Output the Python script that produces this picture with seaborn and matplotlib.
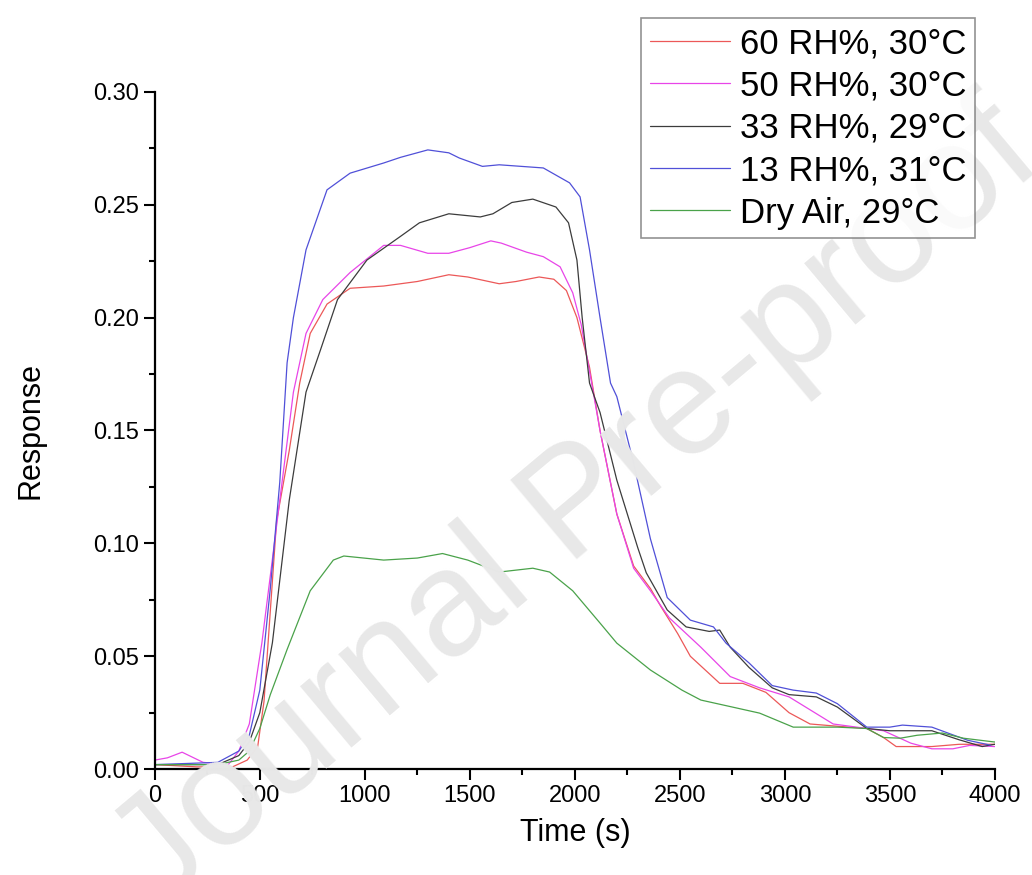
import numpy as np
import pandas as pd
import matplotlib
matplotlib.use("Agg")
import matplotlib.pyplot as plt
from matplotlib.ticker import MultipleLocator
import seaborn as sns

labels = ["60 RH%, 30°C", "50 RH%, 30°C", "33 RH%, 29°C", "13 RH%, 31°C", "Dry Air, 29°C"]
colors = ["#ec5858", "#e845e8", "#3c3c3c", "#5050d8", "#4aa24a"]

t_60 = [0, 200, 370, 440, 490, 520, 580, 640, 690, 740, 820, 930, 1090, 1250, 1400, 1490, 1640, 1720,
        1830, 1900, 1960, 2010, 2070, 2120, 2200, 2280, 2360, 2410, 2490, 2550, 2690, 2800, 2910, 3020,
        3120, 3250, 3390, 3470, 3530, 3700, 3830, 4000]
r_60 = [0.002, 0.001, 0.001, 0.004, 0.010, 0.030, 0.110, 0.141, 0.171, 0.193, 0.206, 0.213, 0.214, 0.216,
        0.219, 0.218, 0.215, 0.216, 0.218, 0.217, 0.212, 0.200, 0.178, 0.150, 0.113, 0.090, 0.080, 0.072,
        0.060, 0.050, 0.038, 0.038, 0.034, 0.025, 0.020, 0.019, 0.018, 0.014, 0.010, 0.010, 0.011, 0.011]

t_50 = [0, 60, 130, 230, 350, 400, 450, 510, 595, 660, 720, 800, 930, 1090, 1170, 1300, 1400, 1500,
        1600, 1650, 1770, 1850, 1930, 1990, 2030, 2080, 2120, 2200, 2280, 2360, 2450, 2600, 2740, 2880,
        3020, 3230, 3390, 3470, 3600, 3700, 3800, 3880, 4000]
r_50 = [0.004, 0.005, 0.0075, 0.003, 0.002, 0.008, 0.020, 0.056, 0.119, 0.167, 0.193, 0.208, 0.220,
        0.232, 0.232, 0.2285, 0.2285, 0.231, 0.234, 0.233, 0.229, 0.227, 0.2225, 0.211, 0.197, 0.171,
        0.150, 0.113, 0.089, 0.079, 0.067, 0.054, 0.041, 0.036, 0.032, 0.020, 0.018, 0.017, 0.0115,
        0.009, 0.009, 0.0105, 0.010]

t_33 = [0, 300, 400, 450, 500, 560, 640, 720, 790, 870, 1010, 1170, 1260, 1400, 1550, 1610, 1700, 1800,
        1910, 1970, 2010, 2035, 2070, 2120, 2200, 2300, 2340, 2440, 2530, 2640, 2690, 2740, 2830, 2940,
        3020, 3150, 3250, 3390, 3500, 3700, 3830, 3940, 4000]
r_33 = [0.002, 0.002, 0.006, 0.012, 0.025, 0.056, 0.119, 0.167, 0.186, 0.208, 0.2255, 0.236, 0.242,
        0.246, 0.2446, 0.246, 0.251, 0.2525, 0.249, 0.242, 0.2255, 0.200, 0.171, 0.158, 0.128, 0.098,
        0.087, 0.0705, 0.063, 0.061, 0.0616, 0.054, 0.045, 0.036, 0.033, 0.032, 0.0275, 0.018, 0.017,
        0.017, 0.013, 0.010, 0.011]

t_13 = [0, 300, 400, 450, 500, 550, 595, 630, 660, 720, 820, 930, 1090, 1170, 1300, 1400, 1450, 1560,
        1640, 1850, 1975, 2025, 2070, 2120, 2170, 2200, 2280, 2360, 2440, 2550, 2660, 2720, 2830, 2940,
        3040, 3150, 3250, 3390, 3500, 3560, 3700, 3870, 3980]
r_13 = [0.002, 0.003, 0.008, 0.015, 0.035, 0.080, 0.127, 0.180, 0.200, 0.230, 0.2566, 0.264, 0.2685,
        0.271, 0.2743, 0.273, 0.2707, 0.267, 0.2677, 0.2663, 0.2597, 0.2535, 0.230, 0.200, 0.171, 0.165,
        0.1356, 0.102, 0.076, 0.066, 0.063, 0.0558, 0.047, 0.037, 0.035, 0.0337, 0.029, 0.0186, 0.0186,
        0.0195, 0.0186, 0.0128, 0.0106]

t_dry = [0, 300, 400, 450, 500, 550, 630, 740, 850, 900, 1090, 1250, 1370, 1490, 1640, 1800, 1880, 1990,
         2120, 2200, 2360, 2510, 2600, 2750, 2880, 3040, 3250, 3390, 3470, 3550, 3630, 3750, 3850, 4000]
r_dry = [0.002, 0.002, 0.004, 0.008, 0.018, 0.033, 0.053, 0.079, 0.0926, 0.0944, 0.0926, 0.0935, 0.0955,
         0.0926, 0.0873, 0.089, 0.0873, 0.079, 0.0647, 0.0558, 0.0439, 0.035, 0.0306, 0.0275, 0.0248,
         0.0186, 0.0186, 0.018, 0.014, 0.0137, 0.015, 0.016, 0.0137, 0.012]

series = [(t_60, r_60), (t_50, r_50), (t_33, r_33), (t_13, r_13), (t_dry, r_dry)]
df = pd.concat([pd.DataFrame({"Time": t, "Response": r, "cond": lab})
                for (t, r), lab in zip(series, labels)], ignore_index=True)

sns.set_style("ticks")
plt.rcParams['font.family'] = ['Liberation Sans', 'DejaVu Sans']
plt.rcParams['text.color'] = 'black'
plt.rcParams['axes.labelcolor'] = 'black'

fig = plt.figure(figsize=(10.32, 8.75), dpi=100)
ax = fig.add_axes([0.150, 0.121, 0.814, 0.774])
ax.set_facecolor("none")

# watermark behind the plot
fig.text(0.56, 0.42, "Journal Pre-proof", fontsize=108, color="#e8e8e8",
         rotation=40, ha="center", va="center", zorder=0)

sns.lineplot(data=df, x="Time", y="Response", hue="cond", hue_order=labels,
             palette=colors, linewidth=0.9, sort=False, estimator=None, ax=ax, legend=False)

ax.set_xlim(0, 4000)
ax.set_ylim(0, 0.30)
ax.xaxis.set_major_locator(MultipleLocator(500))
ax.xaxis.set_minor_locator(MultipleLocator(250))
ax.yaxis.set_major_locator(MultipleLocator(0.05))
ax.yaxis.set_minor_locator(MultipleLocator(0.025))
ax.yaxis.set_major_formatter(matplotlib.ticker.FormatStrFormatter("%.2f"))
ax.tick_params(which="major", length=8, width=1.5, labelsize=17, direction="out", colors="black")
ax.tick_params(which="minor", length=4, width=1.5, direction="out", colors="black")
for s in ["top", "right"]:
    ax.spines[s].set_visible(False)
for s in ["left", "bottom"]:
    ax.spines[s].set_linewidth(1.6)
    ax.spines[s].set_color("black")
ax.set_xlabel("Time (s)", fontsize=22, labelpad=8)
ax.set_ylabel("Response", fontsize=22, labelpad=34)

handles = [plt.Line2D([], [], color=c, lw=0.9) for c in colors]
leg = fig.legend(handles, labels, loc="upper right", bbox_to_anchor=(0.945, 0.979),
                 fontsize=25, frameon=True, fancybox=False, edgecolor="#777777",
                 handlelength=2.3, handletextpad=0.3, labelspacing=0.27, borderpad=0.25,
                 borderaxespad=0)
leg.get_frame().set_linewidth(1.2)

fig.savefig("out.png", dpi=100)
